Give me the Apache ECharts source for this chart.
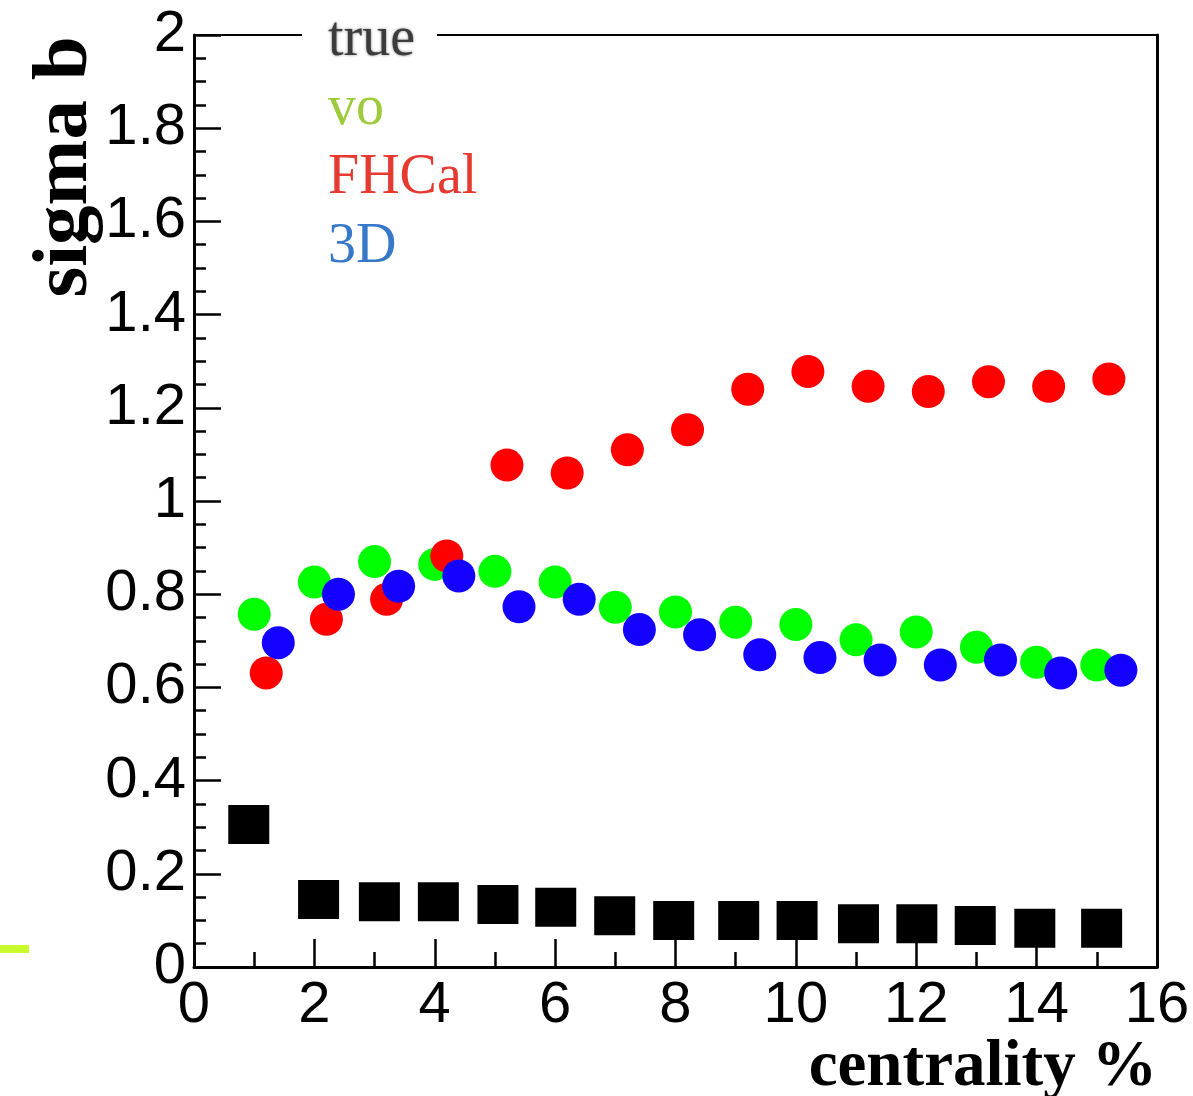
<!DOCTYPE html>
<html>
<head>
<meta charset="utf-8">
<title>sigma b vs centrality</title>
<script src="https://cdn.jsdelivr.net/npm/echarts@6/dist/echarts.min.js"></script>
<style>
  html, body { margin: 0; padding: 0; background: #ffffff; }
  #chart { width: 1193px; height: 1096px; }
</style>
</head>
<body>
<div id="chart"></div>
<script>
// Centrality (%) and impact-parameter resolution for each estimator
const trueX = [0.91, 2.07, 3.08, 4.06, 5.05, 6.01, 6.99, 7.97, 9.05, 10.02, 11.04, 12.01, 12.98, 13.97, 15.08];
const trueY = [0.306, 0.145, 0.140, 0.140, 0.134, 0.128, 0.110, 0.100, 0.100, 0.100, 0.093, 0.093, 0.089, 0.083, 0.083];

const voX = [1, 2, 3, 4, 5, 6, 7, 8, 9, 10, 11, 12, 13, 14, 15];
const voY = [0.757, 0.826, 0.870, 0.864, 0.849, 0.826, 0.772, 0.762, 0.740, 0.735, 0.702, 0.719, 0.686, 0.654, 0.648];

const fhcalX = [1.2, 2.2, 3.2, 4.2, 5.2, 6.2, 7.2, 8.2, 9.2, 10.2, 11.2, 12.2, 13.2, 14.2, 15.2];
const fhcalY = [0.631, 0.746, 0.789, 0.882, 1.077, 1.060, 1.110, 1.153, 1.240, 1.278, 1.246, 1.235, 1.256, 1.246, 1.262];

const d3X = [1.4, 2.4, 3.4, 4.4, 5.4, 6.4, 7.4, 8.4, 9.4, 10.4, 11.4, 12.4, 13.4, 14.4, 15.4];
const d3Y = [0.696, 0.800, 0.817, 0.839, 0.773, 0.789, 0.724, 0.713, 0.670, 0.664, 0.659, 0.648, 0.659, 0.631, 0.637];

const seriesNames = ['true', 'vo', 'FHCal', '3D'];
const xTitle = 'centrality %';
const yTitle = 'sigma b';

const pairs = (xs, ys) => xs.map((x, i) => [x, ys[i]]);

const chart = echarts.init(document.getElementById('chart'), null, { renderer: 'canvas' });

const tickFont = { fontFamily: 'Liberation Sans, Arial, sans-serif', fontSize: 58, color: '#000' };

const option = {
  backgroundColor: '#ffffff',
  animation: false,
  grid: { left: 194, right: 36, top: 35, bottom: 129, containLabel: false },
  legend: {
    show: true,
    orient: 'vertical',
    left: 318,
    top: 5,
    padding: 5,
    itemGap: 9,
    itemWidth: 0,
    itemHeight: 0,
    icon: 'none',
    z: 20,
    selectedMode: false,
    textStyle: { fontFamily: 'Liberation Serif, Times New Roman, serif', fontSize: 56, lineHeight: 60 },
    data: [
      { name: seriesNames[0], textStyle: { color: '#3c3c3c', textShadowColor: 'rgba(0,0,0,0.45)', textShadowBlur: 3 } },
      { name: seriesNames[1], textStyle: { color: '#9dcb3b' } },
      { name: seriesNames[2], textStyle: { color: '#e63a31' } },
      { name: seriesNames[3], textStyle: { color: '#3778c8' } }
    ]
  },
  xAxis: [
    {
      type: 'value', min: 0, max: 16, interval: 2,
      axisLine: { show: true, onZero: false, lineStyle: { color: '#000', width: 3 } },
      axisTick: { show: true, inside: true, length: 28, lineStyle: { color: '#000', width: 2.5 } },
      minorTick: { show: true, splitNumber: 2, length: 15, lineStyle: { color: '#000', width: 2.5 } },
      axisLabel: Object.assign({ margin: 10 }, tickFont),
      splitLine: { show: false }
    },
    {
      type: 'value', min: 0, max: 16, position: 'top',
      axisLine: { show: true, onZero: false, lineStyle: { color: '#000', width: 2 } },
      axisTick: { show: false }, axisLabel: { show: false }, splitLine: { show: false }
    }
  ],
  yAxis: [
    {
      type: 'value', min: 0, max: 2, interval: 0.2,
      axisLine: { show: true, onZero: false, lineStyle: { color: '#000', width: 3 } },
      axisTick: { show: true, inside: true, length: 27, lineStyle: { color: '#000', width: 2.5 } },
      minorTick: { show: true, splitNumber: 4, length: 12, lineStyle: { color: '#000', width: 2.5 } },
      axisLabel: Object.assign({ margin: 8 }, tickFont),
      splitLine: { show: false }
    },
    {
      type: 'value', min: 0, max: 2, position: 'right',
      axisLine: { show: true, onZero: false, lineStyle: { color: '#000', width: 3 } },
      axisTick: { show: false }, axisLabel: { show: false }, splitLine: { show: false }
    }
  ],
  graphic: [
    // gap in the top frame behind the first legend entry
    { type: 'rect', left: 302, top: 28, shape: { width: 135, height: 14 }, style: { fill: '#ffffff' }, z: 10 },
    // small marker stroke at the lower left edge
    { type: 'rect', left: 0, top: 945, shape: { width: 29, height: 8 }, style: { fill: '#c8fa2c' }, z: 10 },
    {
      type: 'text', x: 66, y: 167, rotation: Math.PI / 2, z: 10,
      style: {
        text: yTitle, fill: '#000', textAlign: 'center', textVerticalAlign: 'middle',
        font: 'bold 79px "Liberation Serif", "Times New Roman", serif'
      }
    },
    {
      type: 'text', x: 1157, y: 1068, z: 10,
      style: {
        text: xTitle, fill: '#000', textAlign: 'right', textVerticalAlign: 'middle',
        font: 'bold 65px "Liberation Serif", "Times New Roman", serif'
      }
    }
  ],
  series: [
    {
      name: seriesNames[0], type: 'scatter', symbol: 'rect', symbolSize: [41, 39],
      itemStyle: { color: '#000000', opacity: 1 }, data: pairs(trueX, trueY)
    },
    {
      name: seriesNames[1], type: 'scatter', symbol: 'circle', symbolSize: 33,
      itemStyle: { color: '#00ff00', opacity: 1 }, data: pairs(voX, voY)
    },
    {
      name: seriesNames[2], type: 'scatter', symbol: 'circle', symbolSize: 33,
      itemStyle: { color: '#ff0000', opacity: 1 }, data: pairs(fhcalX, fhcalY)
    },
    {
      name: seriesNames[3], type: 'scatter', symbol: 'circle', symbolSize: 33,
      itemStyle: { color: '#1400ff', opacity: 1 }, data: pairs(d3X, d3Y)
    }
  ]
};

chart.setOption(option);
</script>
</body>
</html>
